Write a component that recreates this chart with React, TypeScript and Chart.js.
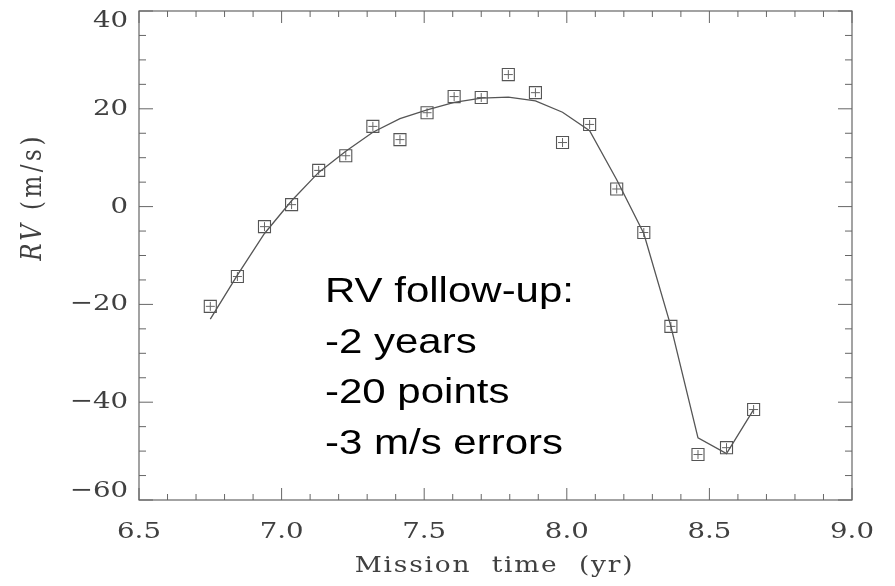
import React, { useEffect, useRef } from "react";
import { Chart, registerables } from "chart.js";

Chart.register(...registerables);

// Observation epochs (mission time, yr)
const missionTime = [
  6.75, 6.845, 6.94, 7.035, 7.13, 7.225, 7.32, 7.415, 7.51, 7.605, 7.7,
  7.795, 7.89, 7.985, 8.08, 8.175, 8.27, 8.365, 8.46, 8.56, 8.655,
];
// Measured radial velocities (m/s)
const rvMeasured = [
  -20.4, -14.3, -4.1, 0.4, 7.4, 10.4, 16.4, 13.7, 19.2, 22.5, 22.3, 27.0,
  23.3, 13.1, 16.8, 3.6, -5.3, -24.5, -50.7, -49.3, -41.5,
];
// Orbit model evaluated at the same epochs (m/s)
const rvModel = [
  -23, -14, -5.5, 1.2, 7, 11.3, 15.2, 18, 19.8, 21.3, 22.2, 22.4, 21.6,
  19.3, 15.5, 5.5, -5.5, -24.5, -47.3, -50.5, -41.5,
];

const xTicks = [6.5, 7.0, 7.5, 8.0, 8.5, 9.0];
const yTicks = [-60, -40, -20, 0, 20, 40];
const xMinorStep = 0.1;
const yMinorStep = 5;

const annotationLines = ["RV follow-up:", "-2 years", "-20 points", "-3 m/s errors"];

const SERIF = "'DejaVu Serif', 'Liberation Serif', serif";
const SANS = "'Liberation Sans', Arial, sans-serif";
const STRETCH = 1.2;
const INK = "#404040";

function stretchedText(
  ctx: CanvasRenderingContext2D,
  text: string,
  x: number,
  y: number,
  align: CanvasTextAlign,
  baseline: CanvasTextBaseline,
  spacing = 0
) {
  ctx.save();
  ctx.translate(x, y);
  ctx.scale(STRETCH, 1);
  (ctx as any).letterSpacing = spacing + "px";
  ctx.textAlign = align;
  ctx.textBaseline = baseline;
  ctx.fillText(text, 0, 0);
  ctx.restore();
}

const framePlugin = {
  id: "frameAndLabels",
  afterDraw(chart: any) {
    const { ctx, chartArea } = chart;
    const xs = chart.scales.x;
    const ys = chart.scales.y;
    const { left, right, top, bottom } = chartArea;

    ctx.save();
    // frame
    ctx.strokeStyle = "#666";
    ctx.lineWidth = 1.2;
    ctx.strokeRect(left, top, right - left, bottom - top);

    // inward ticks on all four sides
    ctx.lineWidth = 1;
    ctx.beginPath();
    const xMin = xTicks[0];
    const xMax = xTicks[xTicks.length - 1];
    for (let i = 0; xMin + i * xMinorStep <= xMax + 1e-9; i++) {
      const v = xMin + i * xMinorStep;
      const major = xTicks.some((t) => Math.abs(t - v) < 1e-6);
      const len = major ? 12 : 6;
      const px = xs.getPixelForValue(v);
      ctx.moveTo(px, bottom);
      ctx.lineTo(px, bottom - len);
      ctx.moveTo(px, top);
      ctx.lineTo(px, top + len);
    }
    const yMin = yTicks[0];
    const yMax = yTicks[yTicks.length - 1];
    for (let i = 0; yMin + i * yMinorStep <= yMax + 1e-9; i++) {
      const v = yMin + i * yMinorStep;
      const major = yTicks.some((t) => Math.abs(t - v) < 1e-6);
      const len = major ? 14 : 7;
      const py = ys.getPixelForValue(v);
      ctx.moveTo(left, py);
      ctx.lineTo(left + len, py);
      ctx.moveTo(right, py);
      ctx.lineTo(right - len, py);
    }
    ctx.stroke();

    // tick labels
    ctx.fillStyle = INK;
    ctx.font = `23px ${SERIF}`;
    xTicks.forEach((t) => {
      stretchedText(ctx, t.toFixed(1), xs.getPixelForValue(t), 532, "center", "middle");
    });
    yTicks.forEach((t) => {
      const label = t < 0 ? "\u2212" + Math.abs(t) : String(t);
      let py = ys.getPixelForValue(t);
      py = Math.min(Math.max(py, top + 10), bottom - 9);
      stretchedText(ctx, label, left - 11, py, "right", "middle");
    });

    // x-axis title
    ctx.font = `22px ${SERIF}`;
    stretchedText(ctx, "Mission  time  (yr)", (left + right) / 2 - 1, 566, "center", "middle", 1.5);

    // y-axis title, rotated
    ctx.save();
    ctx.translate(34, 197);
    ctx.rotate(-Math.PI / 2);
    ctx.scale(1, STRETCH);
    ctx.textBaseline = "middle";
    (ctx as any).letterSpacing = "3.5px";
    const italic = `italic 23px ${SERIF}`;
    const upright = `23px ${SERIF}`;
    ctx.font = italic;
    const w1 = ctx.measureText("RV").width;
    ctx.font = upright;
    const w2 = ctx.measureText(" (m/s)").width;
    const start = -(w1 + w2) / 2;
    ctx.textAlign = "left";
    ctx.font = italic;
    ctx.fillText("RV", start, 0);
    ctx.font = upright;
    ctx.fillText(" (m/s)", start + w1, 0);
    ctx.restore();

    // annotation block
    ctx.fillStyle = "#000";
    ctx.font = `35px ${SANS}`;
    annotationLines.forEach((line, i) => {
      stretchedText(ctx, line, 325, 302 + i * 50.7, "left", "alphabetic");
    });
    ctx.restore();
  },
};

export default function App() {
  const canvasRef = useRef<HTMLCanvasElement | null>(null);

  useEffect(() => {
    const canvas = canvasRef.current;
    if (!canvas) return;
    const chart = new Chart(canvas, {
      type: "scatter",
      data: {
        datasets: [
          {
            label: "model",
            data: missionTime.map((t, i) => ({ x: t, y: rvModel[i] })),
            showLine: true,
            borderColor: "#555",
            borderWidth: 1.3,
            pointRadius: 0,
            tension: 0,
            fill: false,
          },
          {
            label: "measured",
            data: missionTime.map((t, i) => ({ x: t, y: rvMeasured[i] })),
            showLine: false,
            pointStyle: "rect",
            pointRadius: 8.5,
            pointBorderColor: "#555",
            pointBorderWidth: 1.1,
            pointBackgroundColor: "rgba(255,255,255,0)",
          },
          {
            label: "measured-cross",
            data: missionTime.map((t, i) => ({ x: t, y: rvMeasured[i] })),
            showLine: false,
            pointStyle: "cross",
            pointRadius: 4.5,
            pointBorderColor: "#666",
            pointBorderWidth: 1,
          },
        ],
      },
      options: {
        responsive: true,
        maintainAspectRatio: false,
        animation: false,
        layout: { padding: { left: 139, top: 11, right: 43, bottom: 86 } },
        plugins: { legend: { display: false }, tooltip: { enabled: false } },
        scales: {
          x: { type: "linear", min: 6.5, max: 9.0, display: false },
          y: { type: "linear", min: -60, max: 40, display: false },
        },
      },
      plugins: [framePlugin],
    });
    return () => chart.destroy();
  }, []);

  return (
    <div style={{ position: "absolute", left: 0, top: 0, width: 895, height: 586, background: "#fff" }}>
      <canvas ref={canvasRef} />
    </div>
  );
}
